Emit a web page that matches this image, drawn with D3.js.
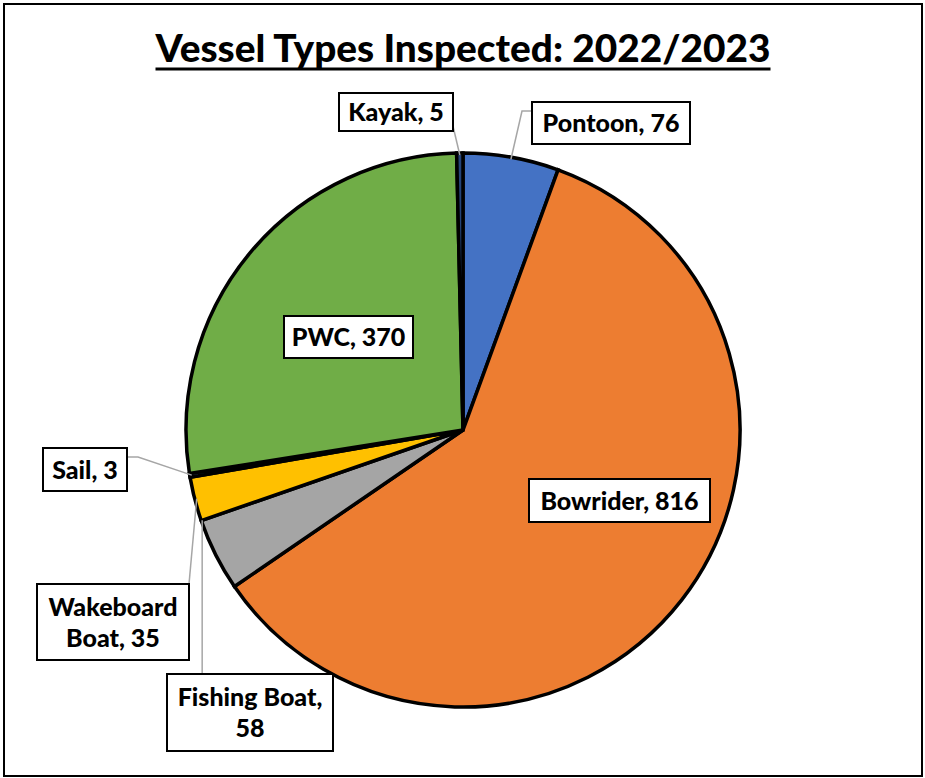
<!DOCTYPE html>
<html>
<head>
<meta charset="utf-8">
<script src="https://cdn.jsdelivr.net/npm/d3@7"></script>
<style>
  html, body { margin: 0; padding: 0; background: #fff; }
  svg { display: block; }
  text { font-family: Lato, "Open Sans", sans-serif; font-weight: 900; fill: #000; }
</style>
</head>
<body>
<svg id="chart" width="925" height="778"></svg>
<script>
// Vessel types inspected during the 2022/2023 season
const categories = ["Pontoon", "Bowrider", "Fishing Boat", "Wakeboard Boat", "Sail", "PWC", "Kayak"];
const counts     = [76, 816, 58, 35, 3, 370, 5];
const colors     = ["#4472C4", "#ED7D31", "#A5A5A5", "#FFC000", "#5B9BD5", "#70AD47", "#264478"];
// label text lines for each slice
const labelLines = [
  ["Pontoon, 76"],
  ["Bowrider, 816"],
  ["Fishing Boat,", "58"],
  ["Wakeboard", "Boat, 35"],
  ["Sail, 3"],
  ["PWC, 370"],
  ["Kayak, 5"]
];
const title = "Vessel Types Inspected: 2022/2023";

const data = categories.map((c, i) => ({ name: c, value: counts[i], color: colors[i], lines: labelLines[i] }));

const svg = d3.select("#chart");
const W = 925, H = 778;
const cx = 463, cy = 430, R = 277;

// outer frame
svg.append("rect")
  .attr("x", 4).attr("y", 4).attr("width", W - 7).attr("height", H - 6)
  .attr("fill", "none").attr("stroke", "#000").attr("stroke-width", 2);

// title, underlined
const t = svg.append("text")
  .attr("x", cx).attr("y", 62)
  .attr("text-anchor", "middle")
  .attr("font-size", 36)
  .text(title);
const tw = t.node().getComputedTextLength();
const targetW = 615;
t.attr("font-size", 36 * targetW / tw);
svg.append("line")
  .attr("x1", cx - targetW / 2).attr("x2", cx + targetW / 2)
  .attr("y1", 69).attr("y2", 69)
  .attr("stroke", "#000").attr("stroke-width", 3);

// pie
const pie = d3.pie().value(d => d.value).sort(null).startAngle(0).endAngle(2 * Math.PI);
const arcs = pie(data);
const arc = d3.arc().innerRadius(0).outerRadius(R);

const g = svg.append("g").attr("transform", `translate(${cx},${cy})`);
g.selectAll("path.slice")
  .data(arcs)
  .join("path")
  .attr("class", "slice")
  .attr("d", arc)
  .attr("fill", d => d.data.color)
  .attr("stroke", "#000")
  .attr("stroke-width", 3.5)
  .attr("stroke-linejoin", "miter");

// point on the rim at a given fraction through a slice
function rimPoint(a, frac, r) {
  const ang = a.startAngle + (a.endAngle - a.startAngle) * frac;
  return [cx + r * Math.sin(ang), cy - r * Math.cos(ang)];
}

// label boxes: [x, y, w, h]
const boxes = {
  "Pontoon":        { box: [532, 102, 158, 42] },
  "Bowrider":       { box: [529, 479, 181, 43] },
  "Fishing Boat":   { box: [167, 674, 166, 77] },
  "Wakeboard Boat": { box: [37, 584, 152, 76] },
  "Sail":           { box: [43, 448, 84, 43] },
  "PWC":            { box: [284, 316, 129, 42] },
  "Kayak":          { box: [339, 93, 114, 38] }
};

// leader lines (grey), drawn before boxes
const leaderG = svg.append("g").attr("fill", "none").attr("stroke", "#A6A6A6").attr("stroke-width", 1.5);
arcs.forEach(a => {
  const n = a.data.name;
  const [bx, by, bw, bh] = boxes[n].box;
  let pts = null;
  if (n === "Pontoon") {
    const p = rimPoint(a, 0.5, R - 2);
    pts = [[bx, by + 9], [bx - 10, by + 9], p];
  } else if (n === "Kayak") {
    const p = rimPoint(a, 0.5, R - 2);
    pts = [[bx + bw - 1, by + 29], p];
  } else if (n === "Sail") {
    const p = rimPoint(a, 0.5, R - 2);
    pts = [[bx + bw, by + 9], [bx + bw + 11, by + 9], p];
  } else if (n === "Wakeboard Boat") {
    const p = rimPoint(a, 0.5, R - 2);
    pts = [[bx + bw, by], p];
  } else if (n === "Fishing Boat") {
    const p = rimPoint(a, 1.0, R - 1);
    pts = [[p[0], by], p];
  }
  if (pts) leaderG.append("path").attr("d", d3.line()(pts));
});

// label boxes with text
const labelG = svg.append("g");
arcs.forEach(a => {
  const n = a.data.name;
  const [bx, by, bw, bh] = boxes[n].box;
  labelG.append("rect")
    .attr("x", bx).attr("y", by).attr("width", bw).attr("height", bh)
    .attr("fill", "#fff").attr("stroke", "#000").attr("stroke-width", 2);
  const lines = a.data.lines;
  const lh = 31;
  const y0 = by + bh / 2 - (lines.length - 1) * lh / 2 + 9;
  lines.forEach((ln, i) => {
    labelG.append("text")
      .attr("x", bx + bw / 2).attr("y", y0 + i * lh)
      .attr("text-anchor", "middle")
      .attr("font-size", 25)
      .text(ln);
  });
});
</script>
</body>
</html>
